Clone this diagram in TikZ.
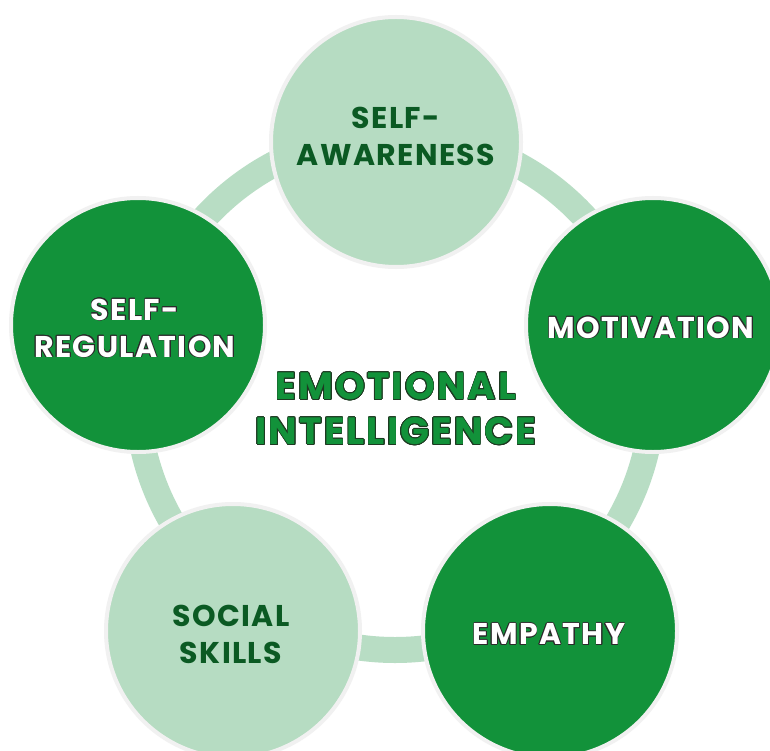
\documentclass[tikz,border=0pt]{standalone}
\usepackage{fontspec}
\setmainfont{Poppins}
\usepackage[copies]{contour}
\contourlength{0.7pt}
\definecolor{dkgreen}{HTML}{12923A}
\definecolor{ltgreen}{HTML}{B6DCC2}
\definecolor{ringgreen}{HTML}{B8DDC4}
\definecolor{rimgray}{HTML}{F1F1F1}
\definecolor{darktext}{HTML}{0B5A23}
\definecolor{outl}{HTML}{2B2B2B}
\definecolor{centeroutl}{HTML}{1E3A22}
\newcommand{\wt}[1]{\contour{outl}{#1}}
\newcommand{\ct}[1]{\contour{centeroutl}{#1}}
\begin{document}
\begin{tikzpicture}[x=1pt,y=-1pt,
  bubble/.style={circle, minimum size=254pt, inner sep=0pt, draw=rimgray, line width=4pt},
  lightbub/.style={bubble, fill=ltgreen},
  darkbub/.style={bubble, fill=dkgreen},
  lbl/.style={align=center, inner sep=0pt,
    font=\bfseries\fontsize{30}{37}\selectfont\addfontfeature{LetterSpace=4.5}},
  lightlbl/.style={lbl, text=darktext},
  darklbl/.style={lbl, text=white},
  ringline/.style={draw=ringgreen, line width=26pt},
  titletext/.style={align=center, text=dkgreen, inner sep=0pt,
    font=\bfseries\fontsize{38}{45}\selectfont\addfontfeature{LetterSpace=5.5}}]
\useasboundingbox (0,0) rectangle (770,751);
\clip (0,0) rectangle (770,751);
\fill[white] (0,0) rectangle (770,751);
\coordinate (c) at (395,392);
\draw[ringline] (c) circle[radius=258pt];
\node[lightbub, minimum size=250pt] (aw) at (396,142) {};
\node[darkbub] (mo) at (653,325) {};
\node[darkbub] (sr) at (138,325) {};
\node[lightbub] (ss) at (233,631) {};
\node[darkbub] (em) at (550,631) {};
\node[lightlbl] (awt) at (396,136.5) {SELF-\\AWARENESS};
\node[darklbl] (mot) at (651,328) {\wt{MOTIVATION}};
\node[darklbl] (srt) at (135,328.5) {\wt{SELF-}\\\wt{REGULATION}};
\node[lightlbl] (sst) at (231,634) {SOCIAL\\SKILLS};
\node[darklbl] (emt) at (549,634.5) {\wt{EMPATHY}};
\node[titletext] (ei) at (396,409) {\ct{EMOTIONAL}\\\ct{INTELLIGENCE}};
\end{tikzpicture}
\end{document}
